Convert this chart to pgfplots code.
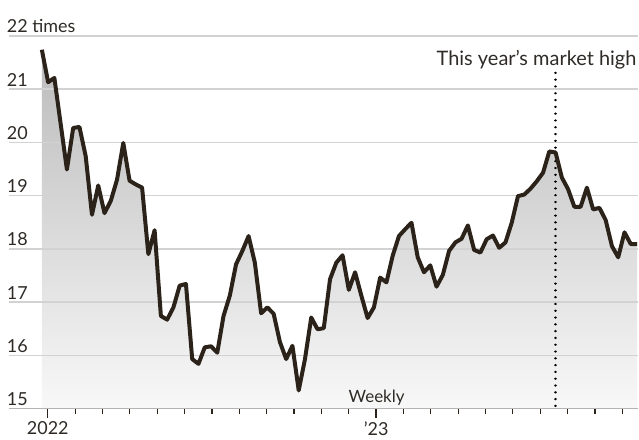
\documentclass[border=0pt]{standalone}
\usepackage{fontspec}
\setmainfont{Lato}
\usepackage{pgfplots}
\usepackage{pgfplotstable}
\pgfplotsset{compat=1.18}
\definecolor{linec}{HTML}{2B2219}
\definecolor{textc}{HTML}{2E2A26}
\definecolor{gridc}{HTML}{D2D2D2}
\definecolor{axisc}{HTML}{B4B4B4}
\definecolor{filltop}{HTML}{BBBBBB}
\definecolor{fillbot}{HTML}{F8F8F8}
\pgfplotstableread{
i v
0 21.74
1 21.13
2 21.21
3 20.35
4 19.49
5 20.27
6 20.29
7 19.74
8 18.64
9 19.19
10 18.67
11 18.90
12 19.30
13 19.99
14 19.28
15 19.21
16 19.15
17 17.90
18 18.35
19 16.74
20 16.67
21 16.90
22 17.31
23 17.34
24 15.93
25 15.84
26 16.15
27 16.17
28 16.05
29 16.74
30 17.12
31 17.71
32 17.96
33 18.24
34 17.74
35 16.79
36 16.90
37 16.78
38 16.25
39 15.93
40 16.18
41 15.34
42 15.93
43 16.71
44 16.49
45 16.51
46 17.43
47 17.74
48 17.88
49 17.23
50 17.56
51 17.12
52 16.70
53 16.90
54 17.46
55 17.37
56 17.87
57 18.24
58 18.37
59 18.49
60 17.84
61 17.56
62 17.69
63 17.29
64 17.51
65 17.96
66 18.12
67 18.19
68 18.44
69 17.98
70 17.93
71 18.18
72 18.25
73 18.02
74 18.12
75 18.49
76 18.99
77 19.02
78 19.13
79 19.27
80 19.43
81 19.83
82 19.81
83 19.34
84 19.12
85 18.79
86 18.79
87 19.15
88 18.74
89 18.77
90 18.54
91 18.05
92 17.84
93 18.31
94 18.09
95 18.09
}\pedata
\begin{document}
\begin{tikzpicture}
\begin{axis}[
  set layers,
  scale only axis,
  width=315.5pt, height=187pt,
  xmin=-5.249, xmax=95.117,
  ymin=15, ymax=22,
  axis x line*=bottom,
  axis y line*=left,
  y axis line style={draw=none},
  x axis line style={draw=axisc, line width=0.9pt},
  ytick={15,16,17,18,19,20,21,22},
  yticklabels={15,16,17,18,19,20,21,22 times},
  ytick style={draw=none},
  yticklabel style={anchor=south west, inner sep=0pt, yshift=1.3pt, xshift=3.3pt, text=textc},
  ymajorgrids,
  grid style={draw=gridc, line width=0.8pt},
  xtick={0.95,53.35},
  xticklabels={2022,’23},
  minor xtick={5.32,9.69,14.05,18.42,22.78,27.15,31.52,35.88,40.25,44.62,48.98,57.71,62.08,66.45,70.81,75.18,79.55,83.91,88.28,92.64},
  tick align=outside,
  major tick length=4.5pt,
  minor tick length=2.6pt,
  xtick style={draw=linec, line width=0.6pt},
  xticklabel style={text=textc, inner sep=0pt, yshift=-2pt},
  /pgf/number format/assume math mode=true,
  tick label style={font=\fontsize{9}{10}\selectfont},
  clip=false,
]
\addplot[on layer=axis background, draw=none, top color=filltop, bottom color=fillbot]
  table[x=i, y=v] {\pedata} |- (axis cs:0,15) -- cycle;
\addplot[black, line width=1.2pt, dash pattern=on 0.01pt off 3.4pt, line cap=round]
  coordinates {(82,15.05) (82,21.32)};
\addplot[linec, line width=2pt, line join=round] table[x=i, y=v] {\pedata};
\node[anchor=base east, text=textc, font=\fontsize{10}{11}\selectfont, inner sep=0pt] at (axis cs:94.96,21.44) {This year’s market high};
\node[anchor=base, text=textc, font=\fontsize{8.5}{10}\selectfont, inner sep=0pt] at (axis cs:53.44,15.12) {Weekly};
\end{axis}
\useasboundingbox (-4pt,-15.5pt) rectangle (315.5pt,205pt);
\end{tikzpicture}
\end{document}
